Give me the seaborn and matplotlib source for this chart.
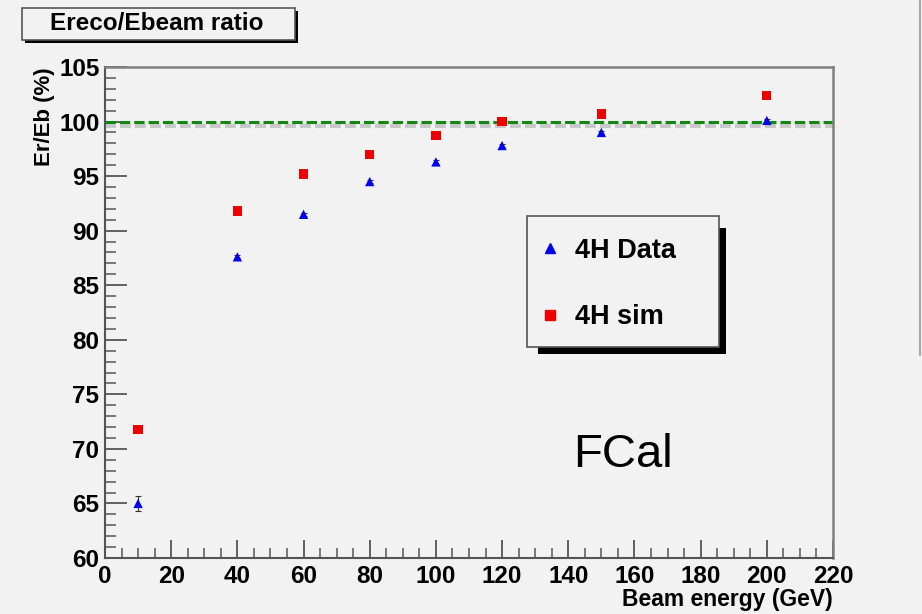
import numpy as np
import pandas as pd
import matplotlib.pyplot as plt
import seaborn as sns
from matplotlib.patches import Rectangle
from matplotlib.lines import Line2D
from matplotlib.ticker import MultipleLocator

# Values
beam_energy = [10, 40, 60, 80, 100, 120, 150, 200]
data_4h = [65.0, 87.6, 91.5, 94.5, 96.3, 97.8, 99.0, 100.1]
data_err = [0.7, 0.15, 0.15, 0.15, 0.15, 0.15, 0.15, 0.15]
sim_4h = [71.8, 91.8, 95.2, 97.0, 98.7, 100.0, 100.7, 102.4]

df = pd.DataFrame({
    "energy": beam_energy * 2,
    "ratio": data_4h + sim_4h,
    "series": ["4H Data"] * len(beam_energy) + ["4H sim"] * len(beam_energy),
})

sns.set_style("ticks")
plt.rcParams['font.family'] = ['Liberation Sans', 'DejaVu Sans']
plt.rcParams['text.color'] = 'black'
plt.rcParams['axes.labelcolor'] = 'black'
plt.rcParams['xtick.labelcolor'] = 'black'
plt.rcParams['ytick.labelcolor'] = 'black'
bg = "#f2f2f2"

fig = plt.figure(figsize=(9.22, 6.14), dpi=100, facecolor=bg)
ax = fig.add_axes([105 / 922, 1 - 558 / 614, (833 - 105) / 922, (558 - 67) / 614])
ax.set_facecolor(bg)

# reference lines at 100 %
ax.axhline(99.6, color="#c8c8c8", lw=3.0, ls=(0, (2.6, 1.0)), zorder=1)
ax.axhline(100.0, color="#118811", lw=2.2, ls=(0, (3.4, 1.3)), zorder=2)

ax.errorbar(beam_energy, data_4h, yerr=data_err, fmt="none", ecolor="#333333",
            elinewidth=0.8, capsize=2.5, capthick=0.8, zorder=3)
sns.scatterplot(data=df, x="energy", y="ratio", hue="series", style="series",
                palette={"4H Data": "#0000ee", "4H sim": "#ee0000"},
                markers={"4H Data": "^", "4H sim": "s"},
                s=45, linewidth=0, ax=ax, zorder=4, legend=False)

ax.set_xlim(0, 220)
ax.set_ylim(60, 105)
ax.xaxis.set_major_locator(MultipleLocator(20))
ax.xaxis.set_minor_locator(MultipleLocator(5))
ax.yaxis.set_major_locator(MultipleLocator(5))
ax.yaxis.set_minor_locator(MultipleLocator(1))
ax.tick_params(which="major", direction="in", length=16, width=1.3, color="#555555",
               labelsize=17.5, pad=4)
ax.tick_params(which="minor", direction="in", length=8, width=1.1, color="#555555")
ax.tick_params(axis="x", which="major", length=13, pad=5)
ax.tick_params(axis="x", which="minor", length=7)
for lab in ax.get_xticklabels() + ax.get_yticklabels():
    lab.set_fontweight("bold")
for side in ["left", "bottom"]:
    ax.spines[side].set_color("#555555")
    ax.spines[side].set_linewidth(1.5)
for side in ["top", "right"]:
    ax.spines[side].set_color("#808080")
    ax.spines[side].set_linewidth(1.8)

ax.set_xlabel("Beam energy (GeV)", fontsize=16.5, fontweight="bold", loc="right", labelpad=0)
ax.set_ylabel("Er/Eb (%)", fontsize=16, fontweight="bold", loc="top", labelpad=3)

ax.text(0.712, 0.21, "FCal", transform=ax.transAxes, fontsize=34, ha="center",
        va="center", color="black")

# title box with shadow
def px_rect(x0, y0, x1, y1, **kw):
    return Rectangle((x0 / 922, 1 - y1 / 614), (x1 - x0) / 922, (y1 - y0) / 614,
                     transform=fig.transFigure, **kw)

fig.add_artist(px_rect(25, 11, 298, 43, facecolor="black", edgecolor="none"))
fig.add_artist(px_rect(22, 8, 295, 40, facecolor=bg, edgecolor="#555555", lw=1.2))
fig.text(157 / 922, 1 - 24 / 614, "Ereco/Ebeam ratio", fontsize=17.5, fontweight="bold",
         ha="center", va="center")

# legend box with shadow
fig.add_artist(px_rect(538, 228, 726, 354, facecolor="black", edgecolor="none"))
fig.add_artist(px_rect(527, 216, 719, 347, facecolor=bg, edgecolor="#555555", lw=1.2))
handles = [Line2D([], [], marker="^", color="#0000ee", ls="none", markersize=7),
           Line2D([], [], marker="s", color="#ee0000", ls="none", markersize=7)]
fig.legend(handles, ["4H Data", "4H sim"], loc="center left", frameon=False,
           bbox_to_anchor=(515 / 922, 1 - 284 / 614), prop={"size": 19.5, "weight": "bold"},
           labelspacing=1.5, handletextpad=0.4, handlelength=1.0, borderpad=0.3)

# thin vertical separator at right edge
fig.add_artist(Line2D([920 / 922, 920 / 922], [1, 1 - 355 / 614], transform=fig.transFigure,
                      color="#aaaaaa", lw=1.5))

fig.savefig("out.png", dpi=100, facecolor=bg)
